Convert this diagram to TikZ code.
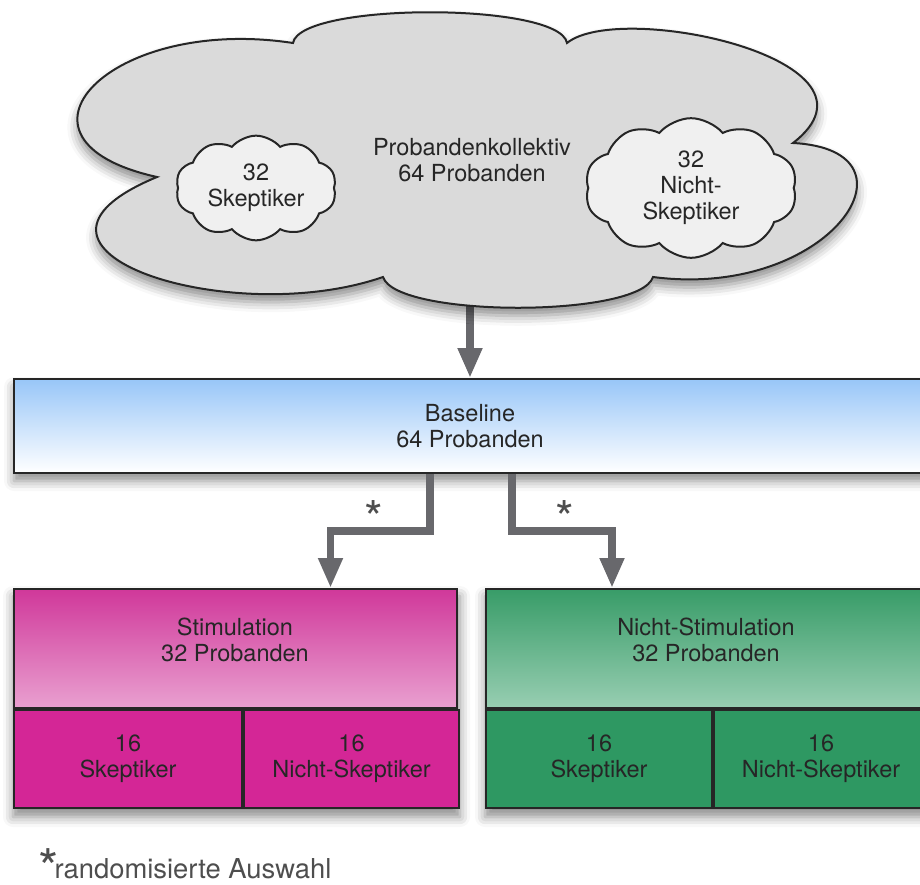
\documentclass[tikz,border=0pt]{standalone}
\usepackage{fontspec}
\setmainfont{TeX Gyre Heros}
\usepackage{tikz}
\usetikzlibrary{positioning,arrows.meta,shapes.symbols,shadows.blur,backgrounds}

\definecolor{wolkengrau}{RGB}{218,218,218}
\definecolor{wolkenhell}{RGB}{240,240,240}
\definecolor{baseblau}{RGB}{152,198,248}
\definecolor{stimoben}{RGB}{208,56,154}
\definecolor{stimunten}{RGB}{233,160,208}
\definecolor{stimzelle}{RGB}{212,38,150}
\definecolor{gruenoben}{RGB}{56,156,104}
\definecolor{gruenunten}{RGB}{152,206,178}
\definecolor{gruenzelle}{RGB}{46,152,98}
\definecolor{pfeilgrau}{RGB}{104,104,108}
\definecolor{fussgrau}{RGB}{78,78,78}

\begin{document}
\begin{tikzpicture}[x=0.5pt,y=-0.5pt,
    schrift/.style={align=center,font=\fontsize{11.75}{13}\selectfont,text=black!85},
    kasten/.style={rectangle,draw=black!85,line width=1pt},
    schatten/.style={blur shadow={shadow xshift=0pt,shadow yshift=-4pt,shadow blur radius=5pt,shadow opacity=45}},
    pfeil/.style={line width=3.75pt,draw=pfeilgrau,-{Triangle[width=11.5pt,length=15pt]}},
    stern/.style={font=\fontsize{24}{24}\selectfont,text=fussgrau,inner sep=0pt},
    wolkchen/.style={cloud,cloud puffs=10,cloud puff arc=100,cloud ignores aspect,draw=black!85,line width=1pt,fill=wolkenhell,schrift}]
    \useasboundingbox (0,0) rectangle (920,884);

    \node [kasten,schatten,top color=baseblau,bottom color=white,minimum width=456pt,minimum height=47pt,schrift] (base) at (470,426) {Baseline\\64 Probanden};

    \coordinate (wolkenfuss) at (470,300);
    \draw[pfeil] (wolkenfuss) -- (base.north);

    \draw[line width=1pt,draw=black!85,fill=wolkengrau,schatten] (293,43)
        .. controls (300,2) and (560,2) .. (567,43)
        .. controls (620,0) and (900,60) .. (793,143)
        .. controls (930,150) and (830,300) .. (653,277)
        .. controls (640,318) and (396,318) .. (383,277)
        .. controls (230,330) and (-20,250) .. (157,177)
        .. controls (-10,140) and (110,15) .. (293,43) -- cycle;
    \node [schrift] (kollektiv) at (472,160) {Probandenkollektiv\\64 Probanden};
    \node [wolkchen,minimum width=79pt,minimum height=48.5pt] (skep) at (256,188) {32\\Skeptiker};
    \node [wolkchen,minimum width=106pt,minimum height=48.5pt] (nskep) at (691,188) {32\\Nicht-\\Skeptiker};

    \node [kasten,top color=stimoben,bottom color=stimunten,minimum width=221.5pt,minimum height=59.5pt] (stim) at (235.5,648.5) {};
    \node [schrift] (stimtext) at (235,640) {Stimulation\\32 Probanden};
    \node [kasten,fill=stimzelle,minimum width=114pt,minimum height=49pt,below right=0pt of stim.south west,schrift] (stimS) {16\\Skeptiker};
    \node [kasten,fill=stimzelle,minimum width=107.5pt,minimum height=49pt,right=0pt of stimS,schrift] (stimN) {16\\Nicht-Skeptiker};

    \node [kasten,top color=gruenoben,bottom color=gruenunten,minimum width=220pt,minimum height=59.5pt] (nstim) at (706,648.5) {};
    \node [schrift] (nstimtext) at (706,640) {Nicht-Stimulation\\32 Probanden};
    \node [kasten,fill=gruenzelle,minimum width=113pt,minimum height=49pt,below right=0pt of nstim.south west,schrift] (nstimS) {16\\Skeptiker};
    \node [kasten,fill=gruenzelle,minimum width=107pt,minimum height=49pt,right=0pt of nstimS,schrift] (nstimN) {16\\Nicht-Skeptiker};

    \begin{scope}[on background layer]
        \path[schatten] (stim.north west) rectangle (stimN.south east);
        \path[schatten] (nstim.north west) rectangle (nstimN.south east);
    \end{scope}

    \draw[pfeil] ([xshift=-20pt]base.south) -- ++(0,57) -| ([xshift=47.5pt]stim.north);
    \draw[pfeil] ([xshift=21pt]base.south) -- ++(0,57) -| ([xshift=-47pt]nstim.north);
    \node [stern] (zufall1) at (374,518) {*};
    \node [stern] (zufall2) at (565,518) {*};

    \node [anchor=base west,inner sep=0pt,text=fussgrau,font=\fontsize{13.7}{16}\selectfont] (fussnote) at (38,878)
        {\raisebox{-4pt}{\fontsize{26}{26}\selectfont *}\kern-2pt randomisierte Auswahl};
\end{tikzpicture}
\end{document}
